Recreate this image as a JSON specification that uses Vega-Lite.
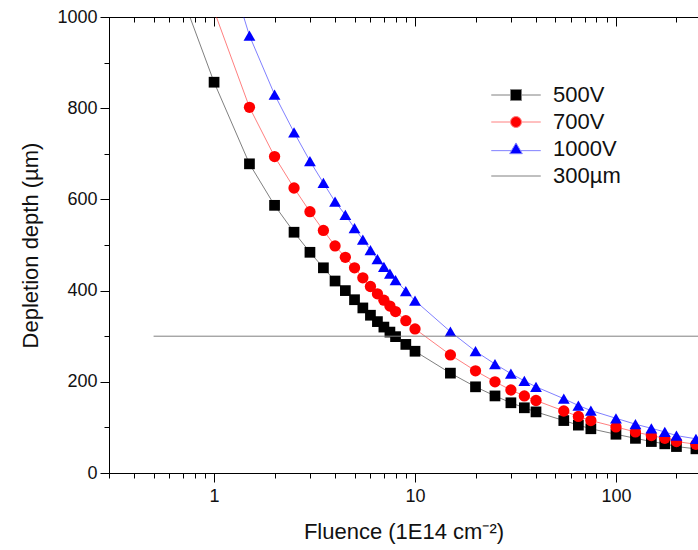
{
  "$schema": "https://vega.github.io/schema/vega-lite/v6.json",
  "width": 589,
  "height": 456,
  "autosize": {"type": "none"},
  "padding": {"left": 109, "top": 17, "right": 0, "bottom": 77},
  "background": "#ffffff",
  "config": {
    "view": {"stroke": null},
    "axis": {
      "grid": false,
      "domainColor": "#000000",
      "domainWidth": 1,
      "tickColor": "#000000",
      "tickWidth": 1,
      "labelFont": "Liberation Sans",
      "titleFont": "Liberation Sans",
      "labelColor": "#111111",
      "titleColor": "#111111",
      "titleFontWeight": "normal"
    }
  },
  "datasets": {
    "depth": [
      {"Fluence": 0.5, "Depth": 1215, "Series": "500V"},
      {"Fluence": 1, "Depth": 857, "Series": "500V"},
      {"Fluence": 1.5, "Depth": 678, "Series": "500V"},
      {"Fluence": 2, "Depth": 587, "Series": "500V"},
      {"Fluence": 2.5, "Depth": 528, "Series": "500V"},
      {"Fluence": 3, "Depth": 484, "Series": "500V"},
      {"Fluence": 3.5, "Depth": 450, "Series": "500V"},
      {"Fluence": 4, "Depth": 421, "Series": "500V"},
      {"Fluence": 4.5, "Depth": 400, "Series": "500V"},
      {"Fluence": 5, "Depth": 380, "Series": "500V"},
      {"Fluence": 5.5, "Depth": 362, "Series": "500V"},
      {"Fluence": 6, "Depth": 346, "Series": "500V"},
      {"Fluence": 6.5, "Depth": 332, "Series": "500V"},
      {"Fluence": 7, "Depth": 320, "Series": "500V"},
      {"Fluence": 7.5, "Depth": 309, "Series": "500V"},
      {"Fluence": 8, "Depth": 299, "Series": "500V"},
      {"Fluence": 9, "Depth": 282, "Series": "500V"},
      {"Fluence": 10, "Depth": 267, "Series": "500V"},
      {"Fluence": 15, "Depth": 219, "Series": "500V"},
      {"Fluence": 20, "Depth": 189, "Series": "500V"},
      {"Fluence": 25, "Depth": 169, "Series": "500V"},
      {"Fluence": 30, "Depth": 154, "Series": "500V"},
      {"Fluence": 35, "Depth": 143, "Series": "500V"},
      {"Fluence": 40, "Depth": 134, "Series": "500V"},
      {"Fluence": 55, "Depth": 115, "Series": "500V"},
      {"Fluence": 65, "Depth": 105, "Series": "500V"},
      {"Fluence": 75, "Depth": 97, "Series": "500V"},
      {"Fluence": 100, "Depth": 85, "Series": "500V"},
      {"Fluence": 125, "Depth": 76, "Series": "500V"},
      {"Fluence": 150, "Depth": 69, "Series": "500V"},
      {"Fluence": 175, "Depth": 64, "Series": "500V"},
      {"Fluence": 200, "Depth": 58, "Series": "500V"},
      {"Fluence": 250, "Depth": 53, "Series": "500V"},
      {"Fluence": 0.5, "Depth": 1437, "Series": "700V"},
      {"Fluence": 1, "Depth": 1014, "Series": "700V"},
      {"Fluence": 1.5, "Depth": 802, "Series": "700V"},
      {"Fluence": 2, "Depth": 694, "Series": "700V"},
      {"Fluence": 2.5, "Depth": 625, "Series": "700V"},
      {"Fluence": 3, "Depth": 573, "Series": "700V"},
      {"Fluence": 3.5, "Depth": 532, "Series": "700V"},
      {"Fluence": 4, "Depth": 498, "Series": "700V"},
      {"Fluence": 4.5, "Depth": 473, "Series": "700V"},
      {"Fluence": 5, "Depth": 450, "Series": "700V"},
      {"Fluence": 5.5, "Depth": 428, "Series": "700V"},
      {"Fluence": 6, "Depth": 409, "Series": "700V"},
      {"Fluence": 6.5, "Depth": 393, "Series": "700V"},
      {"Fluence": 7, "Depth": 379, "Series": "700V"},
      {"Fluence": 7.5, "Depth": 366, "Series": "700V"},
      {"Fluence": 8, "Depth": 354, "Series": "700V"},
      {"Fluence": 9, "Depth": 334, "Series": "700V"},
      {"Fluence": 10, "Depth": 316, "Series": "700V"},
      {"Fluence": 15, "Depth": 259, "Series": "700V"},
      {"Fluence": 20, "Depth": 224, "Series": "700V"},
      {"Fluence": 25, "Depth": 200, "Series": "700V"},
      {"Fluence": 30, "Depth": 182, "Series": "700V"},
      {"Fluence": 35, "Depth": 169, "Series": "700V"},
      {"Fluence": 40, "Depth": 159, "Series": "700V"},
      {"Fluence": 55, "Depth": 136, "Series": "700V"},
      {"Fluence": 65, "Depth": 124, "Series": "700V"},
      {"Fluence": 75, "Depth": 115, "Series": "700V"},
      {"Fluence": 100, "Depth": 101, "Series": "700V"},
      {"Fluence": 125, "Depth": 90, "Series": "700V"},
      {"Fluence": 150, "Depth": 82, "Series": "700V"},
      {"Fluence": 175, "Depth": 76, "Series": "700V"},
      {"Fluence": 200, "Depth": 69, "Series": "700V"},
      {"Fluence": 250, "Depth": 63, "Series": "700V"},
      {"Fluence": 0.5, "Depth": 1718, "Series": "1000V"},
      {"Fluence": 1, "Depth": 1212, "Series": "1000V"},
      {"Fluence": 1.5, "Depth": 959, "Series": "1000V"},
      {"Fluence": 2, "Depth": 830, "Series": "1000V"},
      {"Fluence": 2.5, "Depth": 747, "Series": "1000V"},
      {"Fluence": 3, "Depth": 684, "Series": "1000V"},
      {"Fluence": 3.5, "Depth": 636, "Series": "1000V"},
      {"Fluence": 4, "Depth": 595, "Series": "1000V"},
      {"Fluence": 4.5, "Depth": 566, "Series": "1000V"},
      {"Fluence": 5, "Depth": 537, "Series": "1000V"},
      {"Fluence": 5.5, "Depth": 512, "Series": "1000V"},
      {"Fluence": 6, "Depth": 489, "Series": "1000V"},
      {"Fluence": 6.5, "Depth": 469, "Series": "1000V"},
      {"Fluence": 7, "Depth": 452, "Series": "1000V"},
      {"Fluence": 7.5, "Depth": 437, "Series": "1000V"},
      {"Fluence": 8, "Depth": 423, "Series": "1000V"},
      {"Fluence": 9, "Depth": 399, "Series": "1000V"},
      {"Fluence": 10, "Depth": 378, "Series": "1000V"},
      {"Fluence": 15, "Depth": 310, "Series": "1000V"},
      {"Fluence": 20, "Depth": 267, "Series": "1000V"},
      {"Fluence": 25, "Depth": 239, "Series": "1000V"},
      {"Fluence": 30, "Depth": 218, "Series": "1000V"},
      {"Fluence": 35, "Depth": 202, "Series": "1000V"},
      {"Fluence": 40, "Depth": 189, "Series": "1000V"},
      {"Fluence": 55, "Depth": 163, "Series": "1000V"},
      {"Fluence": 65, "Depth": 148, "Series": "1000V"},
      {"Fluence": 75, "Depth": 137, "Series": "1000V"},
      {"Fluence": 100, "Depth": 120, "Series": "1000V"},
      {"Fluence": 125, "Depth": 107, "Series": "1000V"},
      {"Fluence": 150, "Depth": 98, "Series": "1000V"},
      {"Fluence": 175, "Depth": 90, "Series": "1000V"},
      {"Fluence": 200, "Depth": 82, "Series": "1000V"},
      {"Fluence": 250, "Depth": 75, "Series": "1000V"}
    ],
    "ref": [
      {"Fluence": 0.5, "Fluence2": 1000, "Depth": 300, "Series": "300µm"}
    ]
  },
  "resolve": {
    "scale": {"color": "independent", "shape": "independent", "size": "independent", "stroke": "independent"},
    "axis": {"x": "independent", "y": "independent"}
  },
  "layer": [
    {
      "data": {"name": "depth"},
      "mark": {"type": "line", "clip": true, "strokeWidth": 1, "strokeOpacity": 0.5},
      "encoding": {
        "x": {
          "field": "Fluence", "type": "quantitative",
          "scale": {"type": "log", "domain": [0.3, 256], "nice": false},
          "axis": {"orient": "bottom", "values": [1, 10, 100], "format": "d", "tickSize": 9, "labelFontSize": 18, "labelPadding": 5, "title": "Fluence (1E14 cm⁻²)", "titleFontSize": 22, "titlePadding": 16}
        },
        "y": {
          "field": "Depth", "type": "quantitative",
          "scale": {"domain": [0, 1000], "nice": false, "zero": false},
          "axis": {"orient": "left", "values": [0, 200, 400, 600, 800, 1000], "format": "d", "tickSize": 9, "labelFontSize": 18, "labelPadding": 3, "title": "Depletion depth (µm)", "titleFontSize": 22, "titlePadding": 14}
        },
        "color": {"field": "Series", "type": "nominal", "scale": {"domain": ["500V", "700V", "1000V"], "range": ["#000000", "#ff0000", "#0000ff"]}, "legend": null}
      }
    },
    {
      "data": {"name": "depth"},
      "mark": {"type": "point", "filled": true, "opacity": 1, "clip": true},
      "encoding": {
        "x": {
          "field": "Fluence", "type": "quantitative",
          "scale": {"type": "log", "domain": [0.3, 256], "nice": false},
          "axis": {"orient": "bottom", "values": [0.3, 0.4, 0.5, 0.6, 0.7, 0.8, 0.9, 2, 3, 4, 5, 6, 7, 8, 9, 20, 30, 40, 50, 60, 70, 80, 90, 200], "tickSize": 5, "labels": false, "title": null}
        },
        "y": {
          "field": "Depth", "type": "quantitative",
          "scale": {"domain": [0, 1000], "nice": false, "zero": false},
          "axis": {"orient": "left", "values": [100, 300, 500, 700, 900], "tickSize": 5, "labels": false, "title": null}
        },
        "color": {"field": "Series", "type": "nominal", "scale": {"domain": ["500V", "700V", "1000V"], "range": ["#000000", "#ff0000", "#0000ff"]}, "legend": null},
        "shape": {"field": "Series", "type": "nominal", "scale": {"domain": ["500V", "700V", "1000V"], "range": ["square", "circle", "triangle-up"]}, "legend": null},
        "size": {"field": "Series", "type": "nominal", "scale": {"domain": ["500V", "700V", "1000V"], "range": [115, 140, 170]}, "legend": null}
      }
    },
    {
      "data": {"name": "ref"},
      "mark": {"type": "rule", "clip": true, "color": "#808080", "strokeWidth": 1},
      "encoding": {
        "x": {
          "field": "Fluence", "type": "quantitative",
          "scale": {"type": "log", "domain": [0.3, 256], "nice": false},
          "axis": {"orient": "top", "values": [1, 10, 100], "tickSize": -9, "labels": false, "title": null}
        },
        "x2": {"field": "Fluence2"},
        "y": {
          "field": "Depth", "type": "quantitative",
          "scale": {"domain": [0, 1000], "nice": false, "zero": false},
          "axis": null
        }
      }
    },
    {
      "data": {"name": "depth"},
      "transform": [{"filter": "datum.Depth < 0"}],
      "mark": {"type": "point", "filled": true, "opacity": 1},
      "encoding": {
        "x": {
          "field": "Fluence", "type": "quantitative",
          "scale": {"type": "log", "domain": [0.3, 256], "nice": false},
          "axis": {"orient": "top", "values": [0.3, 0.4, 0.5, 0.6, 0.7, 0.8, 0.9, 2, 3, 4, 5, 6, 7, 8, 9, 20, 30, 40, 50, 60, 70, 80, 90, 200], "tickSize": -5, "labels": false, "title": null}
        },
        "y": {
          "field": "Depth", "type": "quantitative",
          "scale": {"domain": [0, 1000], "nice": false, "zero": false},
          "axis": null
        },
        "color": {
          "field": "Series", "type": "nominal",
          "scale": {"domain": ["500V", "700V", "1000V", "300µm"], "range": ["#000000", "#ff0000", "#0000ff", "#808080"]},
          "legend": {"title": null, "orient": "none", "legendX": 396, "legendY": 67, "symbolSize": 121, "symbolStrokeWidth": 1, "labelFontSize": 22, "labelFont": "Liberation Sans", "labelColor": "#111111", "labelOffset": 26, "rowPadding": 5, "padding": 0}
        },
        "shape": {
          "field": "Series", "type": "nominal",
          "scale": {"domain": ["500V", "700V", "1000V", "300µm"], "range": ["M-4.5,0H-1M1,0H4.5M-1,-1H1V1H-1Z", "M-4.5,0H-1M1,0H4.5M1,0A1,1,0,1,1,-1,0A1,1,0,1,1,1,0Z", "M-4.5,0.3H-0.83M0.83,0.3H4.5M0,-1.1L1.15,0.85H-1.15Z", "M-4.5,0H4.5"]},
          "legend": {"title": null, "orient": "none", "legendX": 396, "legendY": 67, "symbolSize": 121, "symbolStrokeWidth": 1, "labelFontSize": 22, "labelFont": "Liberation Sans", "labelColor": "#111111", "labelOffset": 26, "rowPadding": 5, "padding": 0}
        },
        "stroke": {
          "field": "Series", "type": "nominal",
          "scale": {"domain": ["500V", "700V", "1000V", "300µm"], "range": ["#808080", "#ff8080", "#8080ff", "#808080"]},
          "legend": {"title": null, "orient": "none", "legendX": 396, "legendY": 67, "symbolSize": 121, "symbolStrokeWidth": 1, "labelFontSize": 22, "labelFont": "Liberation Sans", "labelColor": "#111111", "labelOffset": 26, "rowPadding": 5, "padding": 0}
        }
      }
    }
  ]
}
